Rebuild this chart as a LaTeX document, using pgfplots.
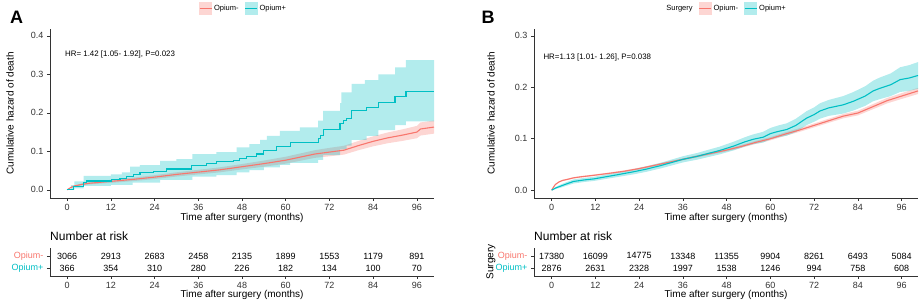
\documentclass[border=0pt]{standalone}
\usepackage{pgfplots}
\pgfplotsset{compat=1.18}
\usepackage{pgfplotstable}
\usepackage{fontspec}
\setmainfont{Liberation Sans}
\definecolor{cred}{HTML}{F8766D}
\definecolor{cteal}{HTML}{00BFC4}

% ---------- Panel A ----------
\pgfplotstableread{
t v
0 0
1.7 0.008
4.5 0.019
5.4 0.023
12.2 0.027
14.5 0.030
16.4 0.034
18.2 0.039
20 0.046
23.7 0.048
27.3 0.054
34.2 0.064
38.3 0.069
41.1 0.073
45.6 0.077
47.4 0.082
49.3 0.086
52 0.093
53.8 0.101
57.5 0.112
61.2 0.122
68.9 0.134
69.6 0.140
70.3 0.156
74.9 0.172
75.8 0.179
76.7 0.186
78.1 0.207
82.2 0.214
85.4 0.227
90 0.242
93 0.255
100.7 0.255
}\tealA
% teal band A: upper edge (steps) then lower edge (steps, reversed)
\pgfplotstableread{
t v
0 0
1 0
1 0.012
2 0.012
2 0.022
4.5 0.022
4.5 0.036
12 0.036
12 0.040
15 0.040
15 0.045
17.3 0.045
17.3 0.060
20 0.060
20 0.064
25.5 0.064
25.5 0.075
30 0.075
30 0.080
34.4 0.080
34.4 0.093
41 0.093
41 0.098
46.5 0.098
46.5 0.110
50 0.110
50 0.119
53 0.119
53 0.130
54.8 0.130
54.8 0.140
58.4 0.140
58.4 0.153
63.9 0.153
63.9 0.162
68.9 0.162
68.9 0.180
70.3 0.180
70.3 0.205
74.9 0.205
74.9 0.225
75.3 0.225
75.3 0.253
78.1 0.253
78.1 0.275
81.7 0.275
81.7 0.285
85.4 0.285
85.4 0.300
90 0.300
90 0.318
93 0.318
93 0.337
100.7 0.337
100.7 0.178
93 0.178
93 0.168
90 0.168
90 0.155
85.4 0.155
85.4 0.140
82.2 0.140
82.2 0.130
78.1 0.130
78.1 0.115
76.7 0.115
76.7 0.105
74.9 0.105
74.9 0.090
70.3 0.090
70.3 0.078
68.9 0.078
68.9 0.070
61.2 0.070
61.2 0.065
58.4 0.065
58.4 0.058
54 0.058
54 0.051
50 0.051
50 0.045
46.5 0.045
46.5 0.038
41 0.038
41 0.034
34.4 0.034
34.4 0.026
25.5 0.026
25.5 0.019
18 0.019
18 0.013
12 0.013
12 0.010
4.5 0.010
4.5 0.004
2 0.004
2 0
0 0
}\tealAband
\pgfplotstableread{
t v
0 0
1 0.006
2 0.010
4 0.014
6 0.017
12 0.022
18 0.027
24 0.033
30 0.040
36 0.046
42 0.052
48 0.060
54 0.068
60 0.077
64 0.085
68 0.093
72 0.098
76 0.103
80 0.115
84 0.126
88 0.135
92 0.142
96 0.150
97 0.158
100.7 0.163
}\redA
\pgfplotstableread{
t v
0 0
1 0.007
2 0.0115
4 0.016
6 0.020
12 0.026
18 0.0315
24 0.038
30 0.0455
36 0.052
42 0.0585
48 0.067
54 0.076
60 0.086
64 0.0945
68 0.103
72 0.109
76 0.1145
80 0.127
84 0.139
88 0.149
92 0.157
96 0.166
97 0.175
100.7 0.180
100.7 0.146
97 0.141
96 0.134
92 0.127
88 0.121
84 0.113
80 0.103
76 0.0915
72 0.087
68 0.083
64 0.0755
60 0.068
54 0.060
48 0.053
42 0.0455
36 0.040
30 0.0345
24 0.028
18 0.0225
12 0.018
6 0.014
4 0.012
2 0.0085
1 0.005
0 0
}\redAband
\pgfplotstableread{
t y n
0 2 3066
12 2 2913
24 2 2683
36 2 2458
48 2 2135
60 2 1899
72 2 1553
84 2 1179
96 2 891
0 1 366
12 1 354
24 1 310
36 1 280
48 1 226
60 1 182
72 1 134
84 1 100
96 1 70
}\riskA

% ---------- Panel B ----------
\pgfplotstableread{
t v
0 0
0.5 0.006
1 0.011
2 0.016
3 0.019
4.3 0.021
6 0.024
8 0.026
11.6 0.029
16 0.033
20 0.037
24 0.042
28 0.048
32 0.054
36 0.060
40 0.066
44 0.072
48 0.078
52 0.085
56 0.093
60 0.100
64 0.109
68 0.117
72 0.126
76 0.135
80 0.144
84 0.150
88 0.162
92 0.174
96 0.183
100.5 0.193
}\redB
\pgfplotstableread{
t v
0 0
0.5 0.007
1 0.012
2 0.0172
3 0.0203
4.3 0.0224
6 0.0254
8 0.0275
11.6 0.0305
16 0.0346
20 0.0387
24 0.0438
28 0.0499
32 0.056
36 0.062
40 0.0682
44 0.0744
48 0.0806
52 0.0878
56 0.096
60 0.1032
64 0.1124
68 0.1206
72 0.1298
76 0.139
80 0.1483
84 0.1546
88 0.167
92 0.1793
96 0.1886
100.5 0.199
100.5 0.187
96 0.1774
92 0.1687
88 0.157
84 0.1454
80 0.1397
76 0.131
72 0.1222
68 0.1134
64 0.1056
60 0.0968
56 0.090
52 0.0822
48 0.0754
44 0.0696
40 0.0638
36 0.058
32 0.052
28 0.0461
24 0.0402
20 0.0353
16 0.0314
11.6 0.0275
8 0.0245
6 0.0226
4.3 0.0196
3 0.0177
2 0.0148
1 0.010
0.5 0.005
0 0
}\redBband
\pgfplotstableread{
t v
0 0
1 0.004
2.5 0.008
4 0.012
6 0.017
9 0.020
11.6 0.022
14 0.025
18 0.030
22.6 0.036
26 0.041
30 0.048
33.5 0.055
36 0.060
40 0.066
42.7 0.071
46 0.077
50 0.086
53 0.094
55.3 0.099
58 0.103
60 0.110
62 0.114
64.5 0.118
67 0.126
69.9 0.140
72 0.147
73.6 0.154
76 0.160
80 0.166
82.8 0.173
86 0.183
88.2 0.193
90 0.198
93 0.205
95.6 0.215
98 0.218
100.5 0.223
}\tealB
\pgfplotstableread{
t v
0 0
1 0.006
2.5 0.011
4 0.0155
6 0.021
9 0.024
11.6 0.026
14 0.0292
18 0.0345
22.6 0.041
26 0.0462
30 0.0535
33.5 0.0608
36 0.066
40 0.0725
42.7 0.078
46 0.0845
50 0.0945
53 0.103
55.3 0.1085
58 0.1135
60 0.121
62 0.1255
64.5 0.130
67 0.139
69.9 0.1535
72 0.161
73.6 0.169
76 0.1755
80 0.183
82.8 0.191
86 0.202
88.2 0.213
90 0.219
93 0.227
95.6 0.239
98 0.243
100.5 0.249
100.5 0.197
98 0.193
95.6 0.191
93 0.183
90 0.177
88.2 0.173
86 0.164
82.8 0.155
80 0.149
76 0.1445
73.6 0.139
72 0.133
69.9 0.1265
67 0.113
64.5 0.106
62 0.1025
60 0.099
58 0.0925
55.3 0.0895
53 0.085
50 0.0775
46 0.0695
42.7 0.064
40 0.0595
36 0.054
33.5 0.0492
30 0.0425
26 0.0358
22.6 0.031
18 0.0255
14 0.0208
11.6 0.018
9 0.016
6 0.013
4 0.0085
2.5 0.005
1 0.002
0 0
}\tealBband
\pgfplotstableread{
t y n
0 2 17380
12 2 16099
24 2 14775
36 2 13348
48 2 11355
60 2 9904
72 2 8261
84 2 6493
96 2 5084
0 1 2876
12 1 2631
24 1 2328
36 1 1997
48 1 1538
60 1 1246
72 1 994
84 1 758
96 1 608
}\riskB

\pgfplotsset{
  base/.style={
    width=384pt, scale only axis,
    axis lines=left,
    axis line style={-, black!80, line width=0.8pt},
    tick align=outside, major tick length=3pt,
    tick style={black!80, line width=0.6pt},
    xtick={0,12,...,96},
    tick label style={font=\fontsize{9}{10}\selectfont, text=black!80},
    /pgf/number format/assume math mode=true,
    label style={font=\fontsize{10.5}{12}\selectfont},
    xlabel={Time after surgery (months)},
  },
  km/.style={base, height=169pt,
    every axis x label/.style={at={(axis description cs:0.5,0)}, anchor=center, yshift=-20pt},
    ylabel={Cumulative hazard of death},
    yticklabel style={/pgf/number format/.cd, fixed, fixed zerofill, precision=1},
    legend style={draw=none, fill=none, font=\fontsize{7.5}{9}\selectfont,
      /tikz/every even column/.append style={column sep=4pt}},
    legend columns=-1,
  },
  risk/.style={base, height=28pt, ymin=0.333, ymax=2.667, ytick={1,2},
    every axis x label/.style={at={(axis description cs:0.5,0)}, anchor=center, yshift=-19pt},
    yticklabel style={font=\fontsize{9}{10}\selectfont},
    yticklabels={\textcolor{cteal}{Opium+},\textcolor{cred}{Opium-}},
  },
  riskpts/.style={only marks, mark=text, text mark={}, nodes near coords, point meta=explicit symbolic,
    every node near coord/.append style={anchor=center, font=\fontsize{9}{10}\selectfont, text=black}},
  keyR/.style={legend image code/.code={
      \fill[cred!30] (0pt,-6pt) rectangle (12pt,6pt);
      \draw[cred, line width=1pt] (0pt,0pt) -- (12pt,0pt);}},
  keyT/.style={legend image code/.code={
      \fill[cteal!30] (0pt,-6pt) rectangle (12pt,6pt);
      \draw[cteal, line width=1pt] (0pt,0pt) -- (12pt,0pt);}},
}

\begin{document}
\begin{tikzpicture}

% ===== Panel A main =====
\begin{axis}[km, at={(50pt,-197pt)}, anchor=south west,
  xmin=-4.7, xmax=100.7, ymin=-0.021, ymax=0.418,
  ytick={0,0.1,0.2,0.3,0.4},
  every axis y label/.style={at={(axis description cs:-0.1042,0.5)}, rotate=90, anchor=center},
  legend style={at={(axis description cs:0.504,1.1225)}, anchor=center}]
\addplot[fill=cred, fill opacity=0.3, draw=none, forget plot] table[x=t,y=v] {\redAband};
\addplot[fill=cteal, fill opacity=0.3, draw=none, forget plot] table[x=t,y=v] {\tealAband};
\addplot[cred, line width=1.1pt, forget plot] table[x=t,y=v] {\redA};
\addplot[cteal, line width=1.1pt, const plot, forget plot] table[x=t,y=v] {\tealA};
\addlegendimage{keyR}\addlegendentry{Opium-}
\addlegendimage{keyT}\addlegendentry{Opium+}
\end{axis}

% ===== Panel A risk table =====
\begin{axis}[risk, at={(50pt,-275pt)}, anchor=south west, xmin=-4.7, xmax=100.7]
\addplot[riskpts] table[x=t,y=y,meta=n] {\riskA};
\end{axis}

% ===== Panel B main =====
\begin{axis}[km, at={(534pt,-197pt)}, anchor=south west,
  xmin=-4.85, xmax=100.5, ymin=-0.015, ymax=0.3136,
  ytick={0,0.1,0.2,0.3},
  every axis y label/.style={at={(axis description cs:-0.112,0.5)}, rotate=90, anchor=center},
  legend style={at={(axis description cs:0.5,1.1225)}, anchor=center}]
\addplot[fill=cred, fill opacity=0.3, draw=none, forget plot] table[x=t,y=v] {\redBband};
\addplot[fill=cteal, fill opacity=0.3, draw=none, forget plot] table[x=t,y=v] {\tealBband};
\addplot[cred, line width=1.1pt, forget plot] table[x=t,y=v] {\redB};
\addplot[cteal, line width=1.1pt, forget plot] table[x=t,y=v] {\tealB};
\addlegendimage{empty legend}\addlegendentry{Surgery}
\addlegendimage{keyR}\addlegendentry{Opium-}
\addlegendimage{keyT}\addlegendentry{Opium+}
\end{axis}

% ===== Panel B risk table =====
\begin{axis}[risk, at={(534pt,-275pt)}, anchor=south west, xmin=-4.85, xmax=100.5,
  ylabel={Surgery},
  every axis y label/.style={at={(axis description cs:-0.112,0.5)}, rotate=90, anchor=center}]
\addplot[riskpts] table[x=t,y=y,meta=n] {\riskB};
\end{axis}

% ===== annotations =====
\node[font=\fontsize{18}{20}\selectfont\bfseries] at (16.5pt,-16.5pt) {A};
\node[font=\fontsize{18}{20}\selectfont\bfseries] at (488pt,-16.5pt) {B};
\node[anchor=west, font=\fontsize{7.9}{9}\selectfont, inner sep=0pt] at (65pt,-54pt) {HR= 1.42 [1.05- 1.92], P=0.023};
\node[anchor=west, font=\fontsize{7.9}{9}\selectfont, inner sep=0pt] at (543.3pt,-56.7pt) {HR=1.13 [1.01- 1.26], P=0.038};
\node[anchor=west, font=\fontsize{12}{14}\selectfont, inner sep=0pt] at (50pt,-235pt) {Number at risk};
\node[anchor=west, font=\fontsize{12}{14}\selectfont, inner sep=0pt] at (534pt,-235pt) {Number at risk};

\path[use as bounding box] (0pt,0pt) rectangle (921pt,-302pt);
\end{tikzpicture}
\end{document}
